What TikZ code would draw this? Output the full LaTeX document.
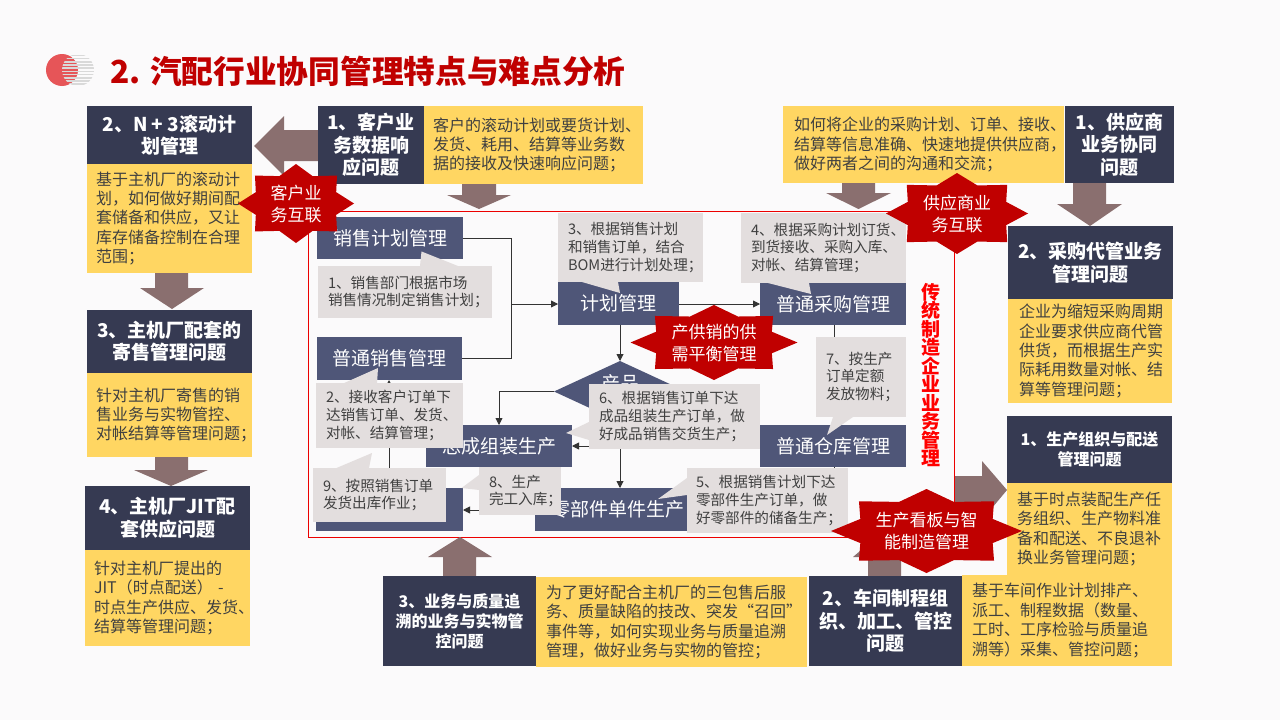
\documentclass[tikz,border=0pt]{standalone}
\usepackage{fontspec}
\setmainfont{Noto Sans CJK SC}
\usetikzlibrary{arrows.meta,shapes.geometric}
\definecolor{bgc}{HTML}{FBFAFB}
\definecolor{darkc}{HTML}{363A52}
\definecolor{yelc}{HTML}{FFD662}
\definecolor{bluec}{HTML}{4F5678}
\definecolor{grayc}{HTML}{E3DEDE}
\definecolor{arrc}{HTML}{8A6F6F}
\definecolor{redc}{HTML}{C00000}
\definecolor{txtc}{HTML}{404040}
\definecolor{logoc}{HTML}{E65558}
\tikzset{
  base/.style={inner sep=0pt,outer sep=0pt,draw=none},
  darkbox/.style={base,fill=darkc,text=white,align=center,font=\fontsize{19}{22.5}\selectfont\bfseries},
  darksmall/.style={darkbox,font=\fontsize{16}{20}\selectfont\bfseries},
  bluebox/.style={base,fill=bluec,text=white,align=center,font=\fontsize{19}{22}\selectfont},
  yelbox/.style={base,fill=yelc,text=txtc,align=left,font=\fontsize{16}{19.4}\selectfont},
  callout/.style={base,fill=grayc,text=txtc,align=left,font=\fontsize{14.6}{17.6}\selectfont},
  startxt/.style={base,text=white,align=center,font=\fontsize{17}{22}\selectfont},
  conn/.style={draw=black!80,line width=0.9pt},
  connar/.style={conn,-{Triangle[length=7pt,width=7pt]}},
  bigarrow/.style={fill=arrc,draw=none},
  ptr/.style={fill=grayc,draw=none}
}
% name, style, x1, y1, x2, y2, text
\newcommand\zzbox[7]{%
  \pgfmathsetmacro\zzcx{(#3+#5)/2}\pgfmathsetmacro\zzcy{(#4+#6)/2}%
  \pgfmathsetmacro\zzw{#5-#3}\pgfmathsetmacro\zzh{#6-#4}%
  \node[#2,minimum width=\zzw pt,minimum height=\zzh pt] (#1) at (\zzcx,\zzcy) {#7};}
% same with left aligned text: name, style, x1, y1, x2, y2, padding, text
\newcommand\zzleft[8]{%
  \pgfmathsetmacro\zzcx{(#3+#5)/2}\pgfmathsetmacro\zzcy{(#4+#6)/2}%
  \pgfmathsetmacro\zzw{#5-#3}\pgfmathsetmacro\zzh{#6-#4}\pgfmathsetmacro\zzt{#5-#3-2*#7}%
  \node[#2,minimum width=\zzw pt,minimum height=\zzh pt,text width=\zzt pt] (#1) at (\zzcx,\zzcy) {#8};}
% eight-pointed star: cx, cy, rx, ry
\newcommand\zzstar[4]{%
  \fill[redc] ({#1+#3},{#2}) -- ({#1+.6929*#3},{#2-.287*#4}) -- ({#1+.7071*#3},{#2-.7071*#4})
  -- ({#1+.287*#3},{#2-.6929*#4}) -- ({#1},{#2-#4}) -- ({#1-.287*#3},{#2-.6929*#4})
  -- ({#1-.7071*#3},{#2-.7071*#4}) -- ({#1-.6929*#3},{#2-.287*#4}) -- ({#1-#3},{#2})
  -- ({#1-.6929*#3},{#2+.287*#4}) -- ({#1-.7071*#3},{#2+.7071*#4}) -- ({#1-.287*#3},{#2+.6929*#4})
  -- ({#1},{#2+#4}) -- ({#1+.287*#3},{#2+.6929*#4}) -- ({#1+.7071*#3},{#2+.7071*#4})
  -- ({#1+.6929*#3},{#2+.287*#4}) -- cycle;}
\begin{document}
\begin{tikzpicture}[x=1pt,y=-1pt]
\useasboundingbox (0,0) rectangle (1280,720);
\fill[bgc] (0,0) rectangle (1280,720);
% logo
\fill[logoc] (62,70) circle (16);
\begin{scope}
  \clip (78,70) circle (16);
  \foreach \yy in {54.5,57.7,...,86} { \fill[black!15] (60,\yy) rectangle (96,\yy+1.7); }
\end{scope}
% title
\node[base,anchor=west,text=redc,font=\fontsize{31.7}{36}\selectfont\bfseries] (title) at (110,71) {2. 汽配行业协同管理特点与难点分析};
% frame
\draw[red!70!redc,line width=1pt] (308,211.5) rectangle (954.5,537);
% big arrows
\fill[bigarrow] (318,130) -- (284,130) -- (284,116) -- (254,146) -- (284,176) -- (284,161) -- (318,161) -- cycle;
\fill[bigarrow] (155,273) -- (188,273) -- (188,288) -- (204,288) -- (172,309) -- (140,288) -- (155,288) -- cycle;
\fill[bigarrow] (155,457) -- (188,457) -- (188,470) -- (208,470) -- (171,486) -- (134,470) -- (155,470) -- cycle;
\fill[bigarrow] (462,184) -- (496,184) -- (496,195) -- (511,195) -- (479,209) -- (447,195) -- (462,195) -- cycle;
\fill[bigarrow] (842,183) -- (875,183) -- (875,193) -- (891,193) -- (858.5,209) -- (826,193) -- (842,193) -- cycle;
\fill[bigarrow] (1073,183) -- (1106,183) -- (1106,204) -- (1122,204) -- (1090,226) -- (1057,204) -- (1073,204) -- cycle;
\fill[bigarrow] (955,476) -- (982,476) -- (982,461) -- (1007,490) -- (982,520) -- (982,505) -- (955,505) -- cycle;
\fill[bigarrow] (868,576) -- (901,576) -- (901,557) -- (916,557) -- (884.5,530) -- (853,557) -- (868,557) -- cycle;
\fill[bigarrow] (443,576) -- (476,576) -- (476,557) -- (492,557) -- (460,537) -- (428,557) -- (443,557) -- cycle;
% process boxes
\zzbox{sales}{bluebox}{317}{217}{463}{259}{销售计划管理}
\zzbox{normal}{bluebox}{317}{337}{462}{380}{普通销售管理}
\zzbox{plan}{bluebox}{558}{282}{679}{325}{计划管理}
\zzbox{purch}{bluebox}{760}{283}{906}{325}{普通采购管理}
\zzbox{ware}{bluebox}{760}{425}{906}{467}{普通仓库管理}
\zzbox{assy}{bluebox}{426}{425}{572}{467}{总成组装生产}
\zzbox{parts}{bluebox}{535}{488}{702}{531}{\hspace*{-1pt}零部件单件生产}
\zzbox{store}{bluebox}{316}{488}{463}{531}{}
\node[diamond,base,fill=bluec,minimum width=132pt,minimum height=61pt,aspect=2.16] (dia) at (620,391.5) {};
\node[base,text=white,font=\fontsize{19}{22}\selectfont] (diat) at (620,383) {产品};
% connectors
\coordinate (j1) at (511,304);
\draw[conn] (sales.east) -- (j1 |- sales.east) -- (j1);
\draw[conn] (normal.east) -- (j1 |- normal.east) -- (j1);
\draw[connar] (j1) -- (plan.west |- j1);
\draw[connar] (plan.east |- purch.west) -- (purch.west);
\draw[connar] (dia.north |- plan.south) -- (dia.north);
\draw[connar] (dia.south) -- (dia.south |- parts.north);
\coordinate (j2) at (dia.south |- assy.east);
\draw[connar] (j2) -- (assy.east);
\draw[connar] (dia.west) -- (assy.north |- dia.west) -- (assy.north);
\coordinate (j3) at (389,488);
\coordinate (j4) at (389,380);
\draw[connar] (j3) -- (j4);
\coordinate (j5) at (535,510);
\coordinate (j6) at (463,510);
\draw[connar] (j5) -- (j6);
\coordinate (j7) at (834,325);
\coordinate (j8) at (834,425);
\coordinate (j9) at (834,467);
\coordinate (j10) at (834,490);
\draw[conn] (j7) -- (j8);
\draw[conn] (j9) -- (j10);
% callouts
\fill[ptr] (420,266) -- (421.5,251.5) -- (458,266) -- cycle;
\zzleft{c1}{callout}{318}{266}{492}{318}{10}{1、销售部门根据市场\\销售情况制定销售计划；}
\fill[ptr] (342,384) -- (378,368) -- (377,384) -- cycle;
\zzleft{c2}{callout}{316}{383}{463}{448}{10}{2、接收客户订单下\\达销售订单、发货、\\对帐、结算管理；}
\zzleft{c3}{callout}{558}{213}{703}{282}{10}{3、根据销售计划\\和销售订单，结合\\BOM进行计划处理；}
\fill[ptr] (582,282) -- (620,293) -- (618,282) -- cycle;
\zzleft{c4}{callout}{741}{213}{906}{283}{10}{4、根据采购计划订货、\\到货接收、采购入库、\\对帐、结算管理；}
\fill[ptr] (768,283) -- (811,294) -- (809,283) -- cycle;
\fill[ptr] (687,478) -- (658,499) -- (687,495) -- cycle;
\zzleft{c5}{callout}{687}{468}{848}{533}{9}{5、根据销售计划下达\\零部件生产订单，做\\好零部件的储备生产；}
\fill[ptr] (589,422) -- (566,433) -- (589,440) -- cycle;
\zzleft{c6}{callout}{589}{384}{760}{449}{10}{6、根据销售订单下达\\成品组装生产订单，做\\好成品销售交货生产；}
\fill[ptr] (833,417) -- (827,435) -- (853,417) -- cycle;
\zzleft{c7}{callout}{816}{337}{906}{417}{10}{7、按生产\\订单定额\\发放物料；}
\fill[ptr] (479,475) -- (461.5,488) -- (479,490) -- cycle;
\zzleft{c8}{callout}{479}{467}{561}{515}{10}{8、生产\\完工入库；}
\fill[ptr] (336.5,468) -- (372,453) -- (369,468) -- cycle;
\zzleft{c9}{callout}{313}{468}{446}{522}{10}{9、按照销售订单\\发货出库作业；}
% vertical label
\node[base,text=red,align=center,font=\fontsize{19}{18.5}\selectfont\bfseries] (vert) at (930.5,375) {传\\统\\制\\造\\企\\业\\业\\务\\管\\理};
% left column
\zzbox{a1}{darkbox}{87}{106}{252}{164}{2、N + 3滚动计\\划管理}
\zzleft{a2}{yelbox}{87}{164}{252}{273}{9}{基于主机厂的滚动计\\划，如何做好期间配\\套储备和供应，又让\\库存储备控制在合理\\范围；}
\zzbox{b1}{darkbox}{87}{310}{252}{373}{3、主机厂配套的\\寄售管理问题}
\zzleft{b2}{yelbox}{87}{373}{252}{457}{9}{针对主机厂寄售的销\\售业务与实物管控、\\对帐结算等管理问题；}
\zzbox{d1}{darkbox}{85}{486}{250}{550}{4、主机厂JIT配\\套供应问题}
\zzleft{d2}{yelbox}{85}{550}{250}{646}{9}{针对主机厂提出的\\JIT（时点配送） -\\时点生产供应、发货、\\结算等管理问题；}
% top middle
\zzbox{e1}{darkbox}{318}{106}{424}{184}{1、客户业\\务数据响\\应问题}
\zzleft{e2}{yelbox}{424}{106}{643}{184}{9}{客户的滚动计划或要货计划、\\发货、耗用、结算等业务数\\据的接收及快速响应问题；}
% top right
\zzleft{f2}{yelbox}{783}{106}{1064}{183}{11}{如何将企业的采购计划、订单、接收、\\结算等信息准确、快速地提供供应商，\\做好两者之间的沟通和交流；}
\zzbox{f1}{darkbox}{1065}{106}{1174}{183}{1、供应商\\业务协同\\问题}
% right column
\zzbox{g1}{darkbox}{1008}{226}{1173}{299}{2、采购代管业务\\管理问题}
\zzleft{g2}{yelbox}{1008}{299}{1172}{403}{11}{企业为缩短采购周期\\企业要求供应商代管\\供货，而根据生产实\\际耗用数量对帐、结\\算等管理问题；}
\zzbox{h1}{darksmall}{1007}{416}{1172}{483}{1、生产组织与配送\\管理问题}
\zzleft{h2}{yelbox}{1007}{483}{1172}{575}{10}{基于时点装配生产任\\务组织、生产物料准\\备和配送、不良退补\\换业务管理问题；}
% bottom
\zzbox{i1}{darksmall}{383}{576}{536}{666}{3、业务与质量追\\溯的业务与实物管\\控问题}
\zzleft{i2}{yelbox}{536}{577}{807}{667}{10}{为了更好配合主机厂的三包售后服\\务、质量缺陷的技改、突发“召回”\\事件等，如何实现业务与质量追溯\\管理，做好业务与实物的管控；}
\zzbox{k1}{darkbox}{809}{576}{962}{666}{2、车间制程组\\织、加工、管控\\问题}
\zzleft{k2}{yelbox}{962}{575}{1172}{666}{10}{基于车间作业计划排产、\\派工、制程数据（数量、\\工时、工序检验与质量追\\溯等）采集、管控问题；}
% stars
\zzstar{296}{203.5}{58}{39.5}
\node[startxt] (s1) at (296,204) {客户业\\务互联};
\zzstar{957}{213.5}{71}{40.5}
\node[startxt] (s2) at (957,214) {供应商业\\务互联};
\zzstar{714}{342.5}{83.5}{37.5}
\node[startxt] (s3) at (714,343) {产供销的供\\需平衡管理};
\zzstar{926.5}{531}{95.5}{42}
\node[startxt] (s4) at (926.5,531) {生产看板与智\\能制造管理};
\end{tikzpicture}
\end{document}
